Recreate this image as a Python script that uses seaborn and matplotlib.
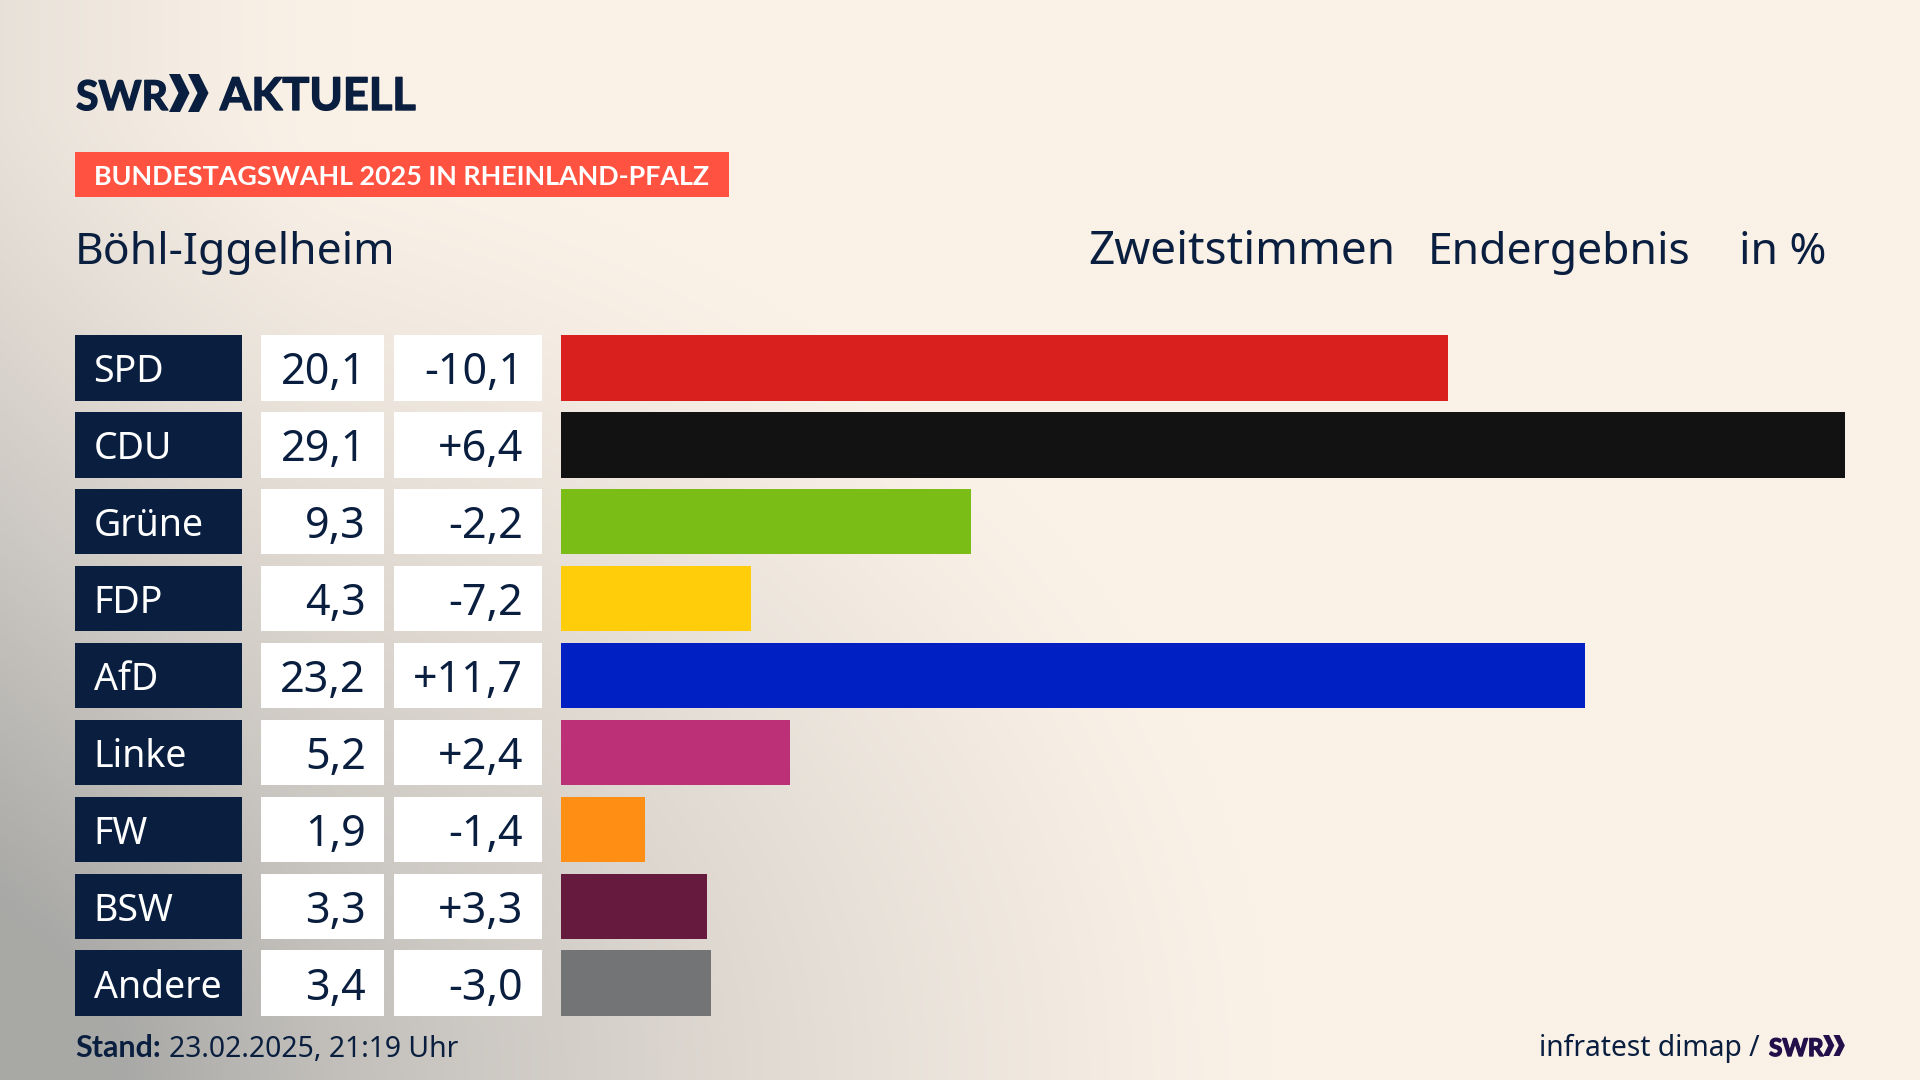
# -*- coding: utf-8 -*-

"""Bundestagswahl result card for Boehl-Iggelheim."""

import matplotlib.patheffects as pe
import matplotlib.pyplot as plt
import numpy as np
import pandas as pd
import seaborn as sns

parties = ['SPD', 'CDU', 'Grüne', 'FDP', 'AfD', 'Linke', 'FW', 'BSW', 'Andere']
shares = [20.1, 29.1, 9.3, 4.3, 23.2, 5.2, 1.9, 3.3, 3.4]
share_labels = ['20,1', '29,1', '9,3', '4,3', '23,2', '5,2', '1,9', '3,3', '3,4']
diff_labels = ['-10,1', '+6,4', '-2,2', '-7,2', '+11,7', '+2,4', '-1,4', '+3,3', '-3,0']
party_colors = ['#D9201F', '#121212', '#7ABD17', '#FFCD0A', '#0020C4',
                '#BB3076', '#FF8F14', '#661A3E', '#737475']

NAVY = '#0A1F3F'
CREAM = np.array([250, 241, 231]) / 255
GREY = np.array([168, 168, 166]) / 255
W, H = 1920, 1080
ROW_TOP, ROW_PITCH, BAR_H = 329.5, 76.9, 0.85
FONT = 'Noto Sans'
BOLD = ['Lato', 'Liberation Sans', 'DejaVu Sans']

sns.set_theme(style='white')
plt.rcParams['font.family'] = [FONT, 'DejaVu Sans']


def row_axes(fig, left, right):
    """Axes in pixel extents that share the row layout."""
    height = 9 * ROW_PITCH
    ax = fig.add_axes([left / W, 1 - (ROW_TOP + height) / H, (right - left) / W, height / H])
    ax.patch.set_alpha(0)
    return ax


def finish(ax, xmax):
    ax.set_xlim(0, xmax)
    ax.set_ylim(8.5, -0.5)
    ax.set_xlabel('')
    ax.set_ylabel('')
    ax.set_xticks([])
    ax.set_yticks([])
    sns.despine(ax=ax, left=True, bottom=True)


def chevrons(ax, x, y, h, color):
    t, d = h * 0.29, h * 0.25
    for dx in (0, h * 0.5):
        left = x + dx
        ax.fill([left, left + t, left + t + d, left + t, left, left + d],
                [y, y, y + h / 2, y + h, y + h, y + h / 2], color=color, lw=0)


def logo_text(ax, x, y, s, size, color):
    """Heavy logo lettering, the outline stroke makes up for the lighter font."""
    t = ax.text(x, y, s, fontsize=size, fontweight='bold', family=BOLD, color=color, va='baseline')
    t.set_path_effects([pe.withStroke(linewidth=1, foreground=color)])


fig = plt.figure(figsize=(19.2, 10.8), dpi=100)

# page background
bg = fig.add_axes([0, 0, 1, 1])
xx, yy = np.meshgrid(np.linspace(0, 1, 480), np.linspace(0, 1, 270))
corner = np.clip(1 - np.hypot(xx / 0.66, (1 - yy) / 0.9), 0, 1) ** 1.25
edge = 0.22 * np.clip(1 - xx / 0.18, 0, 1) ** 1.5
mix = np.clip(corner + edge, 0, 1)[..., None]
bg.imshow(CREAM * (1 - mix) + GREY * mix, extent=(0, W, H, 0), aspect='auto', interpolation='bilinear')
bg.set_xlim(0, W)
bg.set_ylim(H, 0)
bg.axis('off')

# header
logo_text(bg, 76, 110, 'SWR', 29.5, NAVY)
chevrons(bg, 169, 74, 38, NAVY)
logo_text(bg, 220, 110, 'AKTUELL', 32.5, NAVY)
bg.fill([75, 729, 729, 75], [152, 152, 197, 197], color='#FF5240', lw=0)
bg.text(94, 185, 'BUNDESTAGSWAHL 2025 IN RHEINLAND-PFALZ', fontsize=19.4, fontweight='bold', family=BOLD,
        color='white', va='baseline')
bg.text(75, 264, 'Böhl-Iggelheim', fontsize=32, color=NAVY, va='baseline')
bg.text(1088, 264, 'Zweitstimmen', fontsize=33, color=NAVY, va='baseline')
bg.text(1428, 264, 'Endergebnis', fontsize=32, color=NAVY, va='baseline')
bg.text(1739, 264, 'in %', fontsize=32, color=NAVY, va='baseline')

# footer
bg.text(75, 1057, 'Stand:', fontsize=22, fontweight='bold', family=BOLD, color=NAVY, va='baseline')
bg.text(169, 1057, '23.02.2025, 21:19 Uhr', fontsize=20.4, color=NAVY, va='baseline')
bg.text(1539, 1056, 'infratest dimap /', fontsize=20.3, color=NAVY, va='baseline')
logo_text(bg, 1769, 1056, 'SWR', 17.5, '#23104A')
chevrons(bg, 1823, 1035, 21, '#23104A')

df = pd.DataFrame({'party': parties, 'share': shares, 'box': [1] * len(parties)})

# left columns are full width bars so they follow the same rows
for left, right, color in [(75, 242, NAVY), (261, 384, 'white'), (394, 542, 'white')]:
    ax = row_axes(fig, left, right)
    sns.barplot(data=df, x='box', y='party', color=color, saturation=1, width=BAR_H, linewidth=0, ax=ax)
    finish(ax, 1)
    if color == NAVY:
        for i, name in enumerate(parties):
            ax.text(18.5 / (right - left), i, name, color='white', fontsize=27, va='center_baseline', ha='left')
    else:
        texts = share_labels if left == 261 else diff_labels
        pad = (18 if left == 261 else 19) / (right - left)
        for i, label in enumerate(texts):
            ax.text(1 - pad, i, label, color=NAVY, fontsize=31, va='center_baseline', ha='right')

# result bars
ax = row_axes(fig, 561, 1845)
sns.barplot(data=df, x='share', y='party', hue='party', palette=party_colors, saturation=1,
            width=BAR_H, dodge=False, legend=False, linewidth=0, ax=ax)
finish(ax, max(shares))

fig.savefig('out.png', dpi=100)
plt.close(fig)
